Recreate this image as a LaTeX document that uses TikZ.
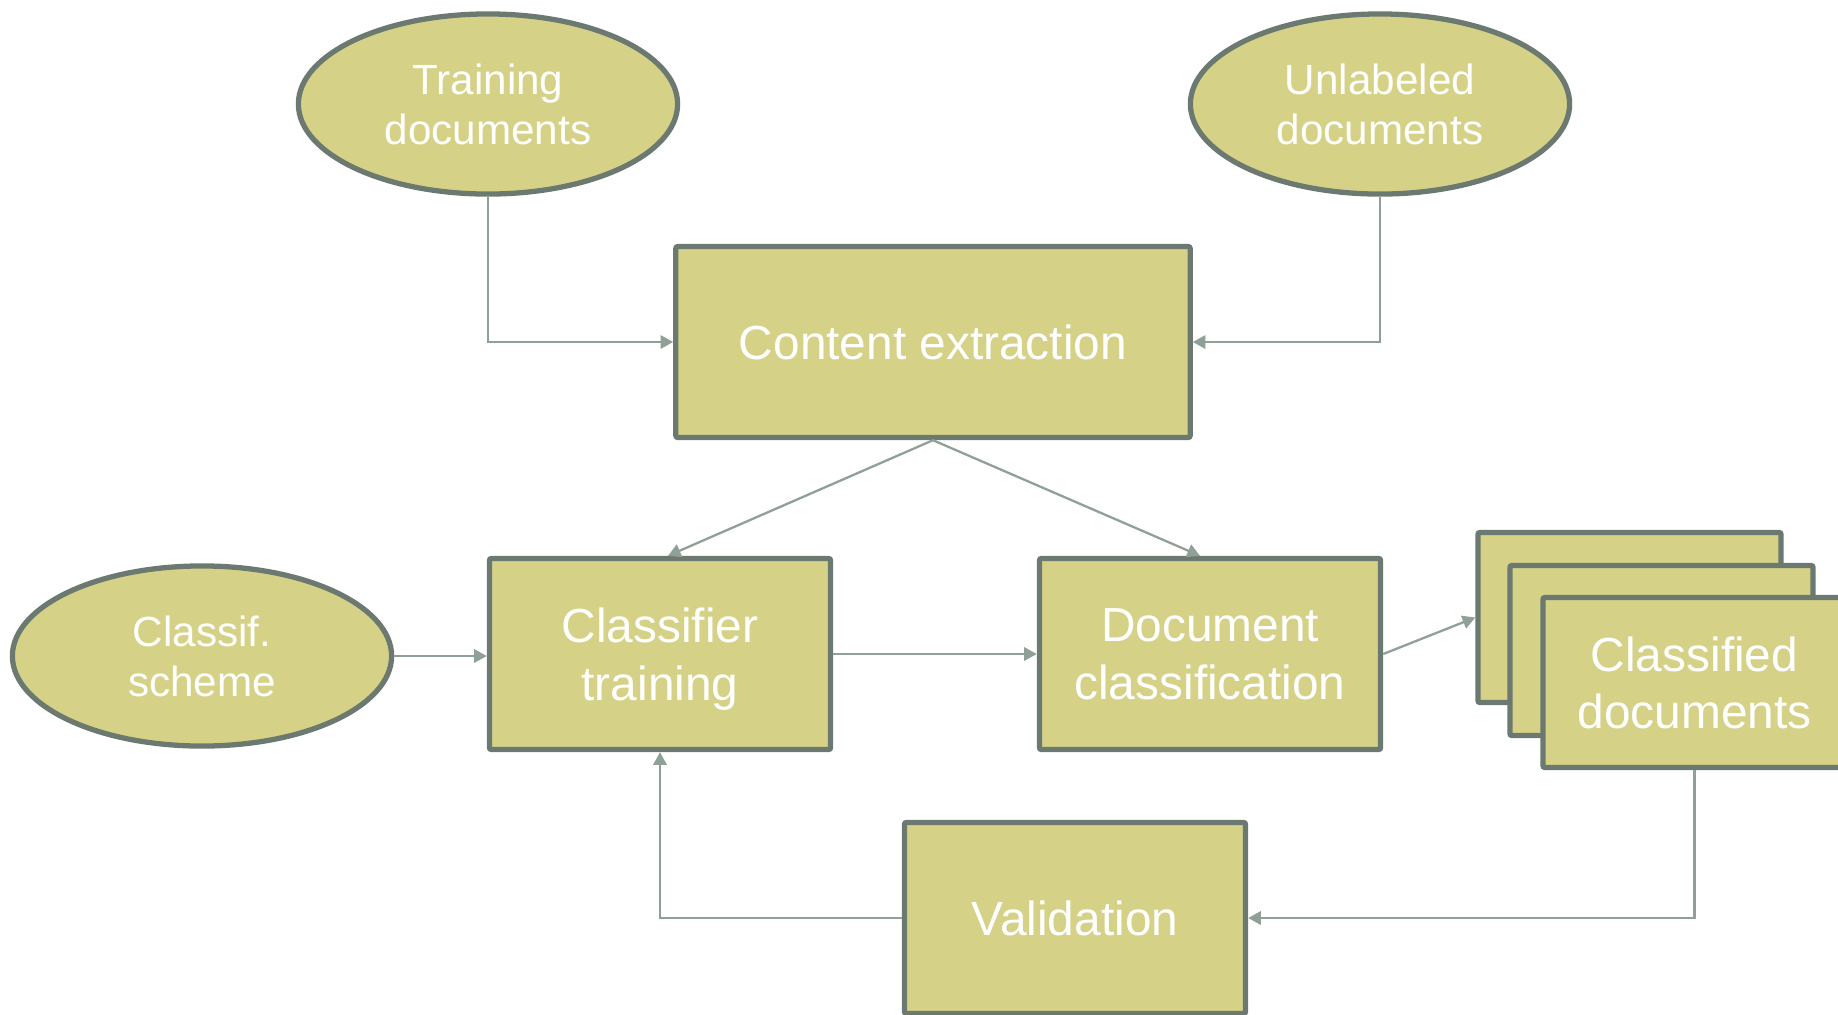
\documentclass[tikz,border=0pt]{standalone}
\usepackage{fontspec}
\setmainfont{Liberation Sans}
\usepackage{xcolor}
\usepackage{tikz}
\usetikzlibrary{
	arrows.meta,
	calc,
	shapes.geometric
}
\definecolor{boxFill}{RGB}{213,210,135}
\definecolor{boxLine}{RGB}{108,121,112}
\definecolor{linkLine}{RGB}{143,160,150}
\tikzset{every path/.append style={line width=0.65pt}}
\tikzset{every path/.append style={>={Triangle[length=3.6pt,width=3.8pt]}}}
\tikzset{
	box/.style={rectangle,draw=boxLine,fill=boxFill,line width=1.5pt,rounded corners=0.6pt,
		text=white,align=center,inner sep=0pt,text depth=0pt,minimum width=3.41cm,minimum height=1.91cm,
		font=\fontsize{13.6}{16.3}\selectfont},
	blob/.style={ellipse,draw=boxLine,fill=boxFill,line width=1.5pt,
		text=white,align=center,inner sep=0pt,text depth=0pt,minimum width=3.79cm,minimum height=1.80cm,
		font=\fontsize{12}{14.3}\selectfont},
	link/.style={draw=linkLine,->}
}
\newcommand{\tikzBox}[4][]{\node (#3) at #2 [box,#1]{#4};}
\newcommand{\tikzBlob}[3]{\node (#2) at #1 [blob]{#3};}

\begin{document}
\begin{tikzpicture}[x=0.01cm,y=-0.01cm]
	\useasboundingbox (0,0) rectangle (1838,1014);
	
	% Inputs
	\tikzBlob{(488,104)}{td}{Training\\documents}
	\tikzBlob{(1380,104)}{ud}{Unlabeled\\documents}
	\tikzBlob{(202,656)}{cs}{Classif.\\scheme}
	
	\tikzBox[minimum width=5.14cm]{(933,342)}{ce}{Content extraction}
	\tikzBox{(660,654)}{ct}{Classifier\\training}
	\tikzBox{(1210,654)}{dc}{Document\\classification}
	\tikzBox{(1075,918)}{va}{Validation}
	
	% Stack of classified documents
	\tikzBox[minimum width=3.03cm,minimum height=1.70cm]{(1629.5,617.5)}{cd1}{}
	\tikzBox[minimum width=3.03cm,minimum height=1.70cm]{(1661.5,650.5)}{cd2}{}
	\tikzBox[minimum width=3.03cm,minimum height=1.70cm]{(1694.5,682.5)}{cd3}{Classified\\documents}
	
	\draw[link] (td.south) |- (ce.west);
	\draw[link] (ud.south) |- (ce.east);
	\draw[link] (ce.south) -- ($(ct.north)+(8,0)$);
	\draw[link] (ce.south) -- ($(dc.north)+(-10,0)$);
	\draw[link] (cs.east) -- (cs.east -| ct.west);
	\draw[link] (ct.east) -- (dc.west);
	\draw[link] (dc.east) -- (cd1.west);
	
	% Feedback loop
	\draw[link] (cd3.south) |- (va.east);
	\draw[link] (va.west) -| (ct.south);
\end{tikzpicture}
\end{document}
